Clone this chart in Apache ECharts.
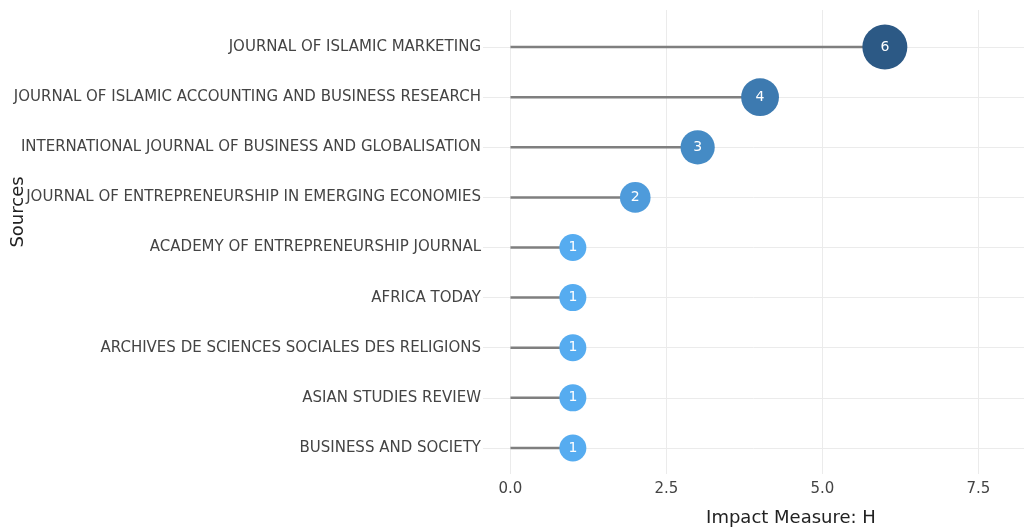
<!DOCTYPE html>
<html>
<head>
<meta charset="utf-8">
<script src="https://cdn.jsdelivr.net/npm/echarts@6/dist/echarts.min.js"></script>
<style>
  html, body { margin: 0; padding: 0; background: #fff; }
  #main { width: 1024px; height: 529px; }
</style>
</head>
<body>
<div id="main"></div>
<script>
// sources, top to bottom
var sources = [
    'JOURNAL OF ISLAMIC MARKETING',
    'JOURNAL OF ISLAMIC ACCOUNTING AND BUSINESS RESEARCH',
    'INTERNATIONAL JOURNAL OF BUSINESS AND GLOBALISATION',
    'JOURNAL OF ENTREPRENEURSHIP IN EMERGING ECONOMIES',
    'ACADEMY OF ENTREPRENEURSHIP JOURNAL',
    'AFRICA TODAY',
    'ARCHIVES DE SCIENCES SOCIALES DES RELIGIONS',
    'ASIAN STUDIES REVIEW',
    'BUSINESS AND SOCIETY'
];
var hIndex = [6, 4, 3, 2, 1, 1, 1, 1, 1];
var xTicks = [0, 2.5, 5, 7.5];

var rows = sources.map(function (s, i) { return i; });
var points = sources.map(function (s, i) { return [hIndex[i], i]; });

var font = 'DejaVu Sans, Verdana, sans-serif';
var myChart = echarts.init(document.getElementById('main'));

var option = {
    animation: false,
    grid: { left: 483, right: 0, top: 10, bottom: 55 },
    xAxis: {
        type: 'value',
        min: -0.44,
        max: 8.23,
        axisLine: { show: false },
        axisTick: { show: false, customValues: xTicks },
        axisLabel: {
            customValues: xTicks,
            margin: 8,
            color: '#444',
            fontSize: 15,
            fontFamily: font,
            formatter: function (v) { return v.toFixed(1); }
        },
        splitLine: { show: true, customValues: xTicks, lineStyle: { color: '#ebebeb', width: 1 } }
    },
    yAxis: {
        type: 'value',
        inverse: true,
        min: -0.74,
        max: 8.52,
        axisLine: { show: false },
        axisTick: { show: false, customValues: rows },
        axisLabel: {
            customValues: rows,
            margin: 2,
            color: '#444',
            fontSize: 15,
            fontFamily: font,
            formatter: function (v) { return sources[Math.round(v)]; }
        },
        splitLine: { show: true, customValues: rows, lineStyle: { color: '#ebebeb', width: 1 } }
    },
    visualMap: {
        show: false,
        type: 'continuous',
        seriesIndex: 1,
        dimension: 0,
        min: 1,
        max: 6,
        inRange: { color: ['#56acf0', '#2c5985'] }
    },
    graphic: [
        {
            type: 'text',
            rotation: Math.PI / 2,
            x: 18, y: 212,
            style: { text: 'Sources', fill: '#222', font: '18px ' + font, align: 'center', verticalAlign: 'middle' }
        },
        {
            type: 'text',
            x: 791, y: 518,
            style: { text: 'Impact Measure: H', fill: '#222', font: '18px ' + font, align: 'center', verticalAlign: 'middle' }
        }
    ],
    series: [
        {
            type: 'custom',
            z: 1,
            data: points,
            renderItem: function (params, api) {
                var a = api.coord([0, api.value(1)]);
                var b = api.coord([api.value(0), api.value(1)]);
                return {
                    type: 'line',
                    shape: { x1: a[0], y1: a[1], x2: b[0], y2: b[1] },
                    style: { stroke: '#7f7f7f', lineWidth: 2.5 }
                };
            }
        },
        {
            type: 'scatter',
            z: 2,
            data: points,
            symbolSize: function (v) { return 23.4 + 3.6 * v[0]; },
            itemStyle: { opacity: 1 },
            label: {
                show: true,
                position: 'inside',
                color: '#fff',
                fontSize: 14,
                fontFamily: font,
                formatter: function (p) { return p.value[0]; }
            }
        }
    ]
};
myChart.setOption(option);
</script>
</body>
</html>
